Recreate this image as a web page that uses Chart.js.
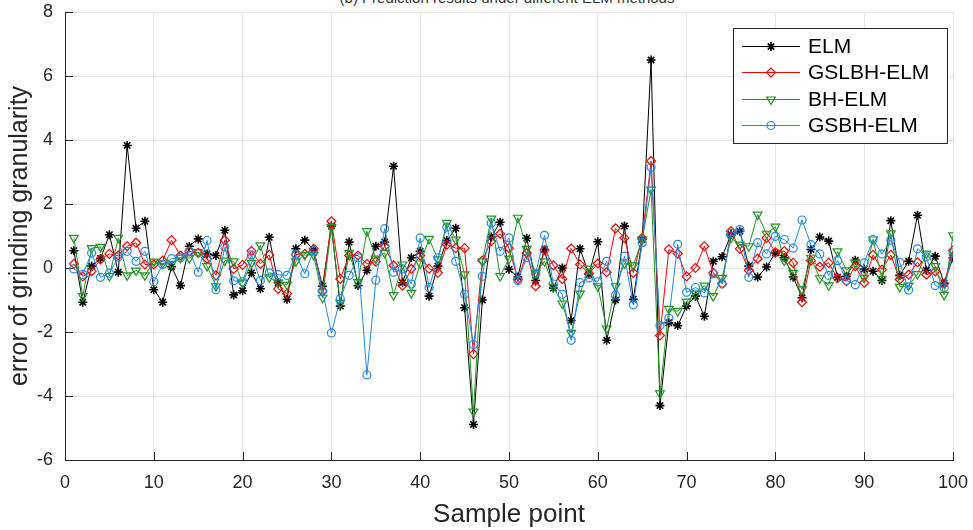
<!DOCTYPE html>
<html lang="en">
<head>
    <meta charset="UTF-8">
    <title>Prediction results</title>
    <script src="https://cdn.jsdelivr.net/npm/chart.js"></script>
    <style>
        body {
            margin: 0;
            background: #fff;
        }
        .wrap {
            position: relative;
            width: 973px;
            height: 530px;
            overflow: hidden;
        }
        #title {
            position: absolute;
            top: -11px;
            left: 0;
            width: 1014px;
            text-align: center;
            font: 15px Arial, "Liberation Sans", sans-serif;
            color: #333;
        }
        canvas {
            position: absolute;
            top: 0;
            left: 0;
        }
    </style>
</head>
<body>
    <div class="wrap">
        <div id="title">(b) Prediction results under different ELM methods</div>
        <canvas id="grafico" width="973" height="530"></canvas>
    </div>

    <script>
        // valores, puntos de muestra 1..100
        const muestras = Array.from({ length: 100 }, (_, i) => i + 1);

        const elm = [
            0.54, -1.07, 0.06, 0.30, 1.04, -0.13, 3.83, 1.24, 1.46, -0.68,
            -1.07, 0.04, -0.55, 0.68, 0.91, 0.44, 0.39, 1.18, -0.84, -0.71,
            -0.15, -0.65, 0.96, -0.46, -0.98, 0.60, 0.87, 0.56, -0.57, 1.31,
            -1.19, 0.81, -0.55, -0.07, 0.68, 0.81, 3.18, -0.46, 0.32, 0.52,
            -0.88, 0.06, 0.86, 1.24, -1.24, -4.89, -1.00, 0.97, 1.43, -0.04,
            -0.28, 0.93, -0.39, 0.58, -0.63, 0.00, -1.64, 0.60, -0.20, 0.82,
            -2.26, -1.00, 1.31, -0.98, 0.89, 6.50, -4.30, -1.71, -1.80, -1.19,
            -0.88, -1.51, 0.21, 0.35, 1.05, 1.15, 0.06, -0.28, 0.03, 0.47,
            0.32, -0.28, -0.93, 0.58, 0.97, 0.84, -0.29, -0.26, 0.24, -0.03,
            -0.10, -0.39, 1.48, -0.23, 0.21, 1.65, -0.07, 0.37, -0.48, 0.32
        ];

        const gslbh = [
            0.13, -0.26, -0.10, 0.27, 0.44, 0.39, 0.68, 0.79, 0.11, 0.11,
            0.23, 0.87, 0.39, 0.52, 0.47, 0.29, -0.23, 0.87, -0.03, 0.10,
            0.53, 0.13, 0.41, -0.65, -0.80, 0.42, 0.44, 0.60, -0.72, 1.46,
            -0.34, 0.39, 0.39, 0.13, 0.20, 0.68, 0.08, -0.55, -0.03, 0.39,
            -0.02, -0.15, 0.73, 0.62, 0.62, -2.69, 0.23, 0.84, 1.07, 0.62,
            -0.36, 0.47, -0.57, 0.56, 0.08, -0.34, 0.61, 0.11, -0.18, 0.14,
            -0.13, 1.24, 0.94, -0.15, 0.94, 3.34, -2.11, 0.58, 0.45, -0.26,
            0.00, 0.68, -0.15, -0.49, 1.15, 0.60, -0.07, 0.29, 0.94, 0.49,
            0.53, 0.16, -1.07, 0.23, 0.04, 0.16, -0.32, -0.41, 0.06, -0.46,
            0.41, -0.05, 0.41, -0.36, -0.21, 0.18, -0.21, -0.11, -0.49, 0.55
        ];

        const bh = [
            0.94, -0.88, 0.62, 0.66, -0.25, 0.94, -0.23, -0.08, -0.23, 0.20,
            0.14, 0.13, 0.32, 0.31, 0.50, 0.06, -0.57, 0.23, 0.21, -0.46,
            0.16, 0.71, -0.29, -0.46, -0.53, 0.21, 0.41, 0.41, -0.93, 1.28,
            -1.09, 0.47, -0.44, 1.15, 0.29, 0.47, -0.85, 0.11, -0.78, 0.14,
            0.91, 0.27, 1.41, 0.89, -0.20, -4.49, 0.21, 1.54, -0.25, 0.29,
            1.57, 0.60, -0.15, 0.21, -0.59, -1.11, -2.03, -0.80, -0.02, -0.57,
            -1.89, -0.57, 0.14, 0.08, 0.89, 2.45, -3.92, -1.28, -1.35, -1.05,
            -0.80, -0.55, -0.88, -0.31, 0.94, 0.73, 0.68, 1.67, 1.07, 1.29,
            0.23, -0.15, -0.67, 0.32, -0.32, -0.54, 0.52, -0.07, 0.16, -0.31,
            0.89, -0.34, 1.08, -0.59, -0.55, -0.19, 0.45, 0.06, -0.84, 1.02
        ];

        const gsbh = [
            -0.03, -0.20, 0.47, -0.29, -0.16, 0.34, 0.52, 0.21, 0.52, -0.43,
            0.11, 0.29, 0.32, 0.52, -0.13, 0.86, -0.68, 0.66, -0.40, -0.43,
            0.41, -0.39, -0.15, -0.21, -0.23, 0.42, -0.18, 0.54, -0.72, -2.03,
            -0.96, -0.23, 0.32, -3.34, -0.38, 1.23, -0.13, -0.03, -0.50, 0.94,
            -0.61, 0.32, 1.28, 0.21, -0.82, -2.39, -0.26, 1.41, 0.52, 0.94,
            -0.39, 0.32, -0.18, 1.02, -0.50, -0.82, -2.26, -0.46, -0.31, -0.43,
            0.21, -0.85, 0.37, -1.15, 0.79, 3.15, -1.80, -1.57, 0.74, -0.76,
            -0.61, -0.78, -0.18, -0.49, 1.08, 1.20, -0.29, 0.79, 0.44, 0.99,
            0.89, 0.62, 1.50, 0.73, 0.44, -0.23, 0.23, -0.39, -0.52, 0.16,
            0.89, 0.44, 0.87, 0.18, -0.69, 0.60, 0.35, -0.55, -0.62, 0.47
        ];

        const nombres = ['ELM', 'GSLBH-ELM', 'BH-ELM', 'GSBH-ELM'];
        const xTicks = [0, 10, 20, 30, 40, 50, 60, 70, 80, 90, 100];
        const yTicks = [-6, -4, -2, 0, 2, 4, 6, 8];

        const fuente = 'Arial, "Liberation Sans", sans-serif';
        const tinta = '#262626';

        function serie(valores) {
            return valores.map((v, i) => ({ x: muestras[i], y: v }));
        }

        // marcas de eje hacia dentro, como en MATLAB
        const marcasInternas = {
            id: 'marcasInternas',
            beforeDatasetsDraw(chart) {
                const { ctx, chartArea: a, scales: { x, y } } = chart;
                ctx.save();
                ctx.strokeStyle = tinta;
                ctx.lineWidth = 1;
                ctx.beginPath();
                x.ticks.forEach(t => {
                    const px = Math.round(x.getPixelForValue(t.value)) + 0.5;
                    ctx.moveTo(px, a.bottom);
                    ctx.lineTo(px, a.bottom - 8);
                });
                y.ticks.forEach(t => {
                    const py = Math.round(y.getPixelForValue(t.value)) + 0.5;
                    ctx.moveTo(a.left, py);
                    ctx.lineTo(a.left + 8, py);
                });
                ctx.stroke();
                ctx.restore();
            }
        };

        // leyenda con linea y marcador
        const leyendaCaja = {
            id: 'leyendaCaja',
            afterDraw(chart) {
                const { ctx, chartArea: a } = chart;
                const w = 214, h = 115, fila = 26.4;
                const left = a.right - 220, top = a.top + 16;
                ctx.save();
                ctx.fillStyle = '#fff';
                ctx.fillRect(left, top, w, h);
                ctx.strokeStyle = tinta;
                ctx.lineWidth = 1;
                ctx.strokeRect(left + 0.5, top + 0.5, w, h);
                ctx.font = '21px ' + fuente;
                ctx.textBaseline = 'middle';
                chart.data.datasets.forEach((ds, i) => {
                    const cy = Math.round(top + 18 + i * fila) + 0.5;
                    ctx.strokeStyle = ds.borderColor;
                    ctx.lineWidth = 1;
                    ctx.beginPath();
                    ctx.moveTo(left + 9, cy);
                    ctx.lineTo(left + 67, cy);
                    ctx.stroke();
                    ctx.fillStyle = 'rgba(0,0,0,0)';
                    ctx.lineWidth = ds.pointBorderWidth;
                    Chart.helpers.drawPoint(ctx, {
                        pointStyle: ds.pointStyle,
                        rotation: ds.pointRotation || 0,
                        radius: ds.pointRadius,
                        borderWidth: ds.pointBorderWidth
                    }, left + 38, cy);
                    ctx.fillStyle = '#000';
                    ctx.fillText(ds.label, left + 75, cy + 1);
                });
                ctx.restore();
            }
        };

        const ctx = document.getElementById('grafico').getContext('2d');
        new Chart(ctx, {
            type: 'line',
            data: {
                datasets: [
                    {
                        label: nombres[0], data: serie(elm),
                        borderColor: '#000000', backgroundColor: 'rgba(0,0,0,0)',
                        borderWidth: 1, pointStyle: 'star', pointRadius: 4.5, pointBorderWidth: 1.6,
                        order: 4
                    },
                    {
                        label: nombres[1], data: serie(gslbh),
                        borderColor: '#ff0000', backgroundColor: 'rgba(0,0,0,0)',
                        borderWidth: 1, pointStyle: 'rectRot', pointRadius: 4.5, pointBorderWidth: 1.2,
                        order: 3
                    },
                    {
                        label: nombres[2], data: serie(bh),
                        borderColor: '#1e961e', backgroundColor: 'rgba(0,0,0,0)',
                        borderWidth: 1, pointStyle: 'triangle', pointRotation: 180, pointRadius: 5, pointBorderWidth: 1.2,
                        order: 2
                    },
                    {
                        label: nombres[3], data: serie(gsbh),
                        borderColor: '#1e88e8', backgroundColor: 'rgba(0,0,0,0)',
                        borderWidth: 1, pointStyle: 'circle', pointRadius: 4, pointBorderWidth: 1.2,
                        order: 1
                    }
                ]
            },
            options: {
                responsive: false,
                animation: false,
                devicePixelRatio: 1,
                layout: { padding: { left: 0, right: 20, top: 12, bottom: 0 } },
                elements: { line: { tension: 0, fill: false } },
                plugins: {
                    legend: { display: false },
                    tooltip: { enabled: false }
                },
                scales: {
                    x: {
                        type: 'linear',
                        min: 0,
                        max: 100,
                        afterBuildTicks(s) { s.ticks = xTicks.map(v => ({ value: v })); },
                        afterFit(s) { s.height = 70; s.paddingLeft = 0; s.paddingRight = 0; },
                        ticks: { font: { size: 18, family: fuente }, color: tinta, padding: 12, maxRotation: 0 },
                        grid: { color: '#e6e6e6', drawTicks: false },
                        border: { color: tinta },
                        title: {
                            display: true, text: 'Sample point', color: tinta,
                            font: { size: 26, family: fuente }, padding: { top: 0, bottom: 0 }
                        }
                    },
                    y: {
                        min: -6,
                        max: 8,
                        afterBuildTicks(s) { s.ticks = yTicks.map(v => ({ value: v })); },
                        afterFit(s) { s.width = 65; s.paddingTop = 0; s.paddingBottom = 0; },
                        ticks: { font: { size: 18, family: fuente }, color: tinta, padding: 12 },
                        grid: { color: '#e6e6e6', drawTicks: false },
                        border: { color: tinta },
                        title: {
                            display: true, text: 'error of grinding granularity', color: tinta,
                            font: { size: 25, family: fuente }, padding: { top: 5, bottom: 0 }
                        }
                    }
                }
            },
            plugins: [marcasInternas, leyendaCaja]
        });
    </script>
</body>
</html>
